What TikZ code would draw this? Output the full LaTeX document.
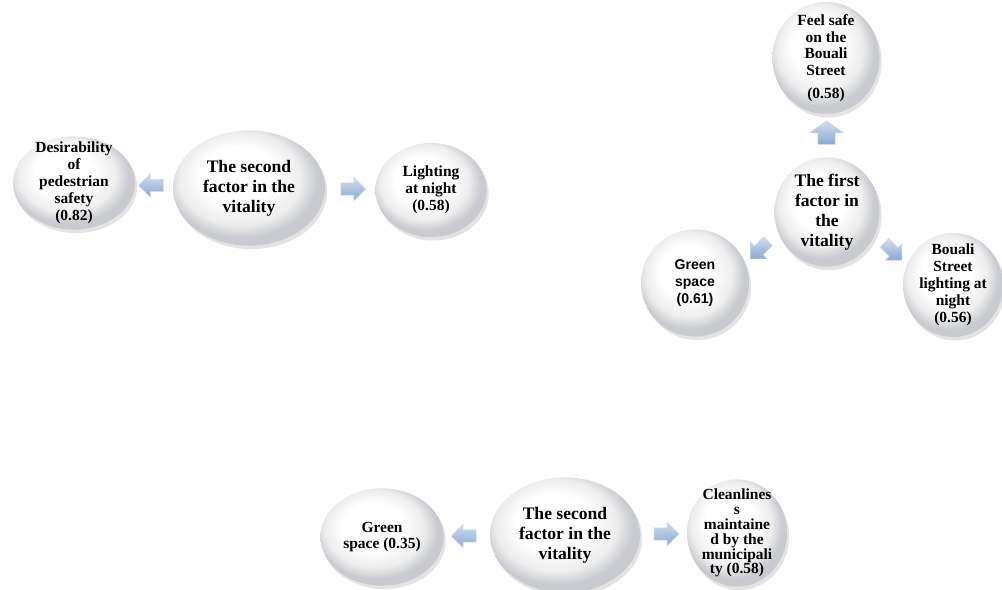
\documentclass[tikz,border=0pt]{standalone}
\usepackage{fontspec}
\setmainfont{Liberation Serif}
\setsansfont{Liberation Sans}
\usetikzlibrary{shapes.geometric,shapes.arrows,shadows,calc}
\definecolor{bubbleRim}{RGB}{200,202,207}
\definecolor{arrowLight}{RGB}{208,221,239}
\definecolor{arrowMid}{RGB}{140,168,207}
\pgfdeclareradialshading{bubbleGloss}{\pgfpoint{-5bp}{7bp}}{%
  color(0bp)=(white); color(12bp)=(white); color(20bp)=(black!7);
  color(25bp)=(bubbleRim); color(50bp)=(bubbleRim)}

\begin{document}
\begin{tikzpicture}[
  x=0.025cm, y=-0.025cm,
  bubble/.style={ellipse, inner sep=-30pt, align=center, shading=bubbleGloss,
    drop shadow={opacity=0.22, shadow xshift=1.5pt, shadow yshift=-2.5pt},
    font=\fontsize{11}{12}\selectfont\bfseries},
  hub/.style={bubble, font=\fontsize{12.5}{14.2}\selectfont\bfseries},
  flow/.style={single arrow, single arrow head extend=4pt, inner sep=4.2pt, minimum height=0.62cm,
    top color=arrowLight, bottom color=arrowMid, draw=arrowLight, line width=0.4pt},
  upflow/.style={flow, single arrow head extend=6pt, inner sep=6pt, minimum height=0.55cm,
    single arrow tip angle=110}
]
\useasboundingbox (0,0) rectangle (1002,590);

% second factor, upper left
\node[hub, minimum width=3.8cm, minimum height=2.88cm] (hubA) at (249,188) {The second\\factor in the\\vitality};
\node[bubble, minimum width=3.05cm, minimum height=2.33cm] (safety) at (74,183) {Desirability\\of\\pedestrian\\safety\\(0.82)};
\node[bubble, minimum width=2.78cm, minimum height=2.35cm] (lighting) at (431,190) {Lighting\\at night\\(0.58)};
\node[flow, rotate=180] (arrSafety) at ($(hubA.west)!0.5!(safety.east)$) {};
\node[flow] (arrLighting) at ($(hubA.east)!0.5!(lighting.west)$) {};

% first factor, upper right
\node[hub, minimum width=2.63cm, minimum height=2.73cm] (hubB) at (827,212) {The first\\factor in\\the\\vitality};
\node[bubble, minimum width=2.68cm, minimum height=2.8cm] (feelSafe) at (826,58) {Feel safe\\on the\\Bouali\\Street\\[4pt](0.58)};
\node[bubble, minimum width=2.7cm, minimum height=2.68cm, font=\fontsize{10}{12}\selectfont\sffamily\bfseries] (greenB) at (695,283) {Green\\space\\(0.61)};
\node[bubble, minimum width=2.5cm, minimum height=2.6cm] (bouali) at (953,285) {Bouali\\Street\\lighting at\\night\\(0.56)};
\node[upflow, rotate=90] (arrFeelSafe) at ($(hubB.north)!0.5!(feelSafe.south)$) {};
\node[flow, rotate=225] (arrGreenB) at ($(hubB.south west)!0.5!(greenB.north east)$) {};
\node[flow, rotate=315] (arrBouali) at ($(hubB.south east)!0.5!(bouali.north west)$) {};

% second factor, bottom
\node[hub, minimum width=3.75cm, minimum height=2.88cm] (hubC) at (565,535) {The second\\factor in the\\vitality};
\node[bubble, minimum width=3.08cm, minimum height=2.43cm] (greenC) at (382,537) {Green\\space (0.35)};
\node[bubble, minimum width=2.5cm, minimum height=2.68cm, font=\fontsize{11}{10.6}\selectfont\bfseries] (clean) at (737,533) {Cleanlines\\s\\maintaine\\d by the\\municipali\\ty (0.58)};
\node[flow, rotate=180] (arrGreenC) at ($(hubC.west)!0.5!(greenC.east)$) {};
\node[flow] (arrClean) at ($(hubC.east)!0.5!(clean.west)$) {};
\end{tikzpicture}
\end{document}
